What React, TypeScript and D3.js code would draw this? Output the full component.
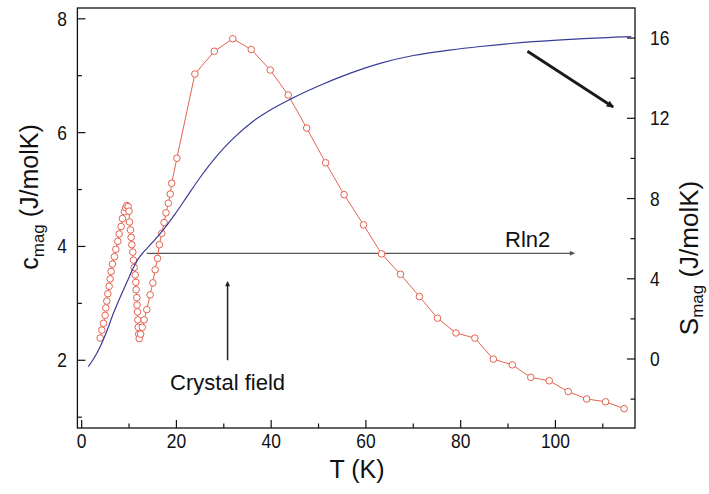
import React from "react";
import * as d3 from "d3";

// ---- data ----
const cT = [3.9, 4.26, 4.6, 4.96, 5.1, 5.31, 5.52, 5.8, 6.01, 6.22, 6.5, 6.92, 7.21, 7.63, 7.91, 8.33, 8.61, 9.03, 9.3, 9.55, 9.8, 10.0, 10.09, 10.3, 10.44, 10.58, 10.79, 10.93, 11.08, 11.29, 11.43, 11.5, 11.64, 11.7, 11.78, 11.86, 11.95, 12.05, 12.15, 12.45, 12.8, 13.19, 13.75, 14.45, 15.02, 15.51, 16.0, 16.4, 16.9, 17.4, 17.8, 18.3, 18.7, 19.0, 20.1, 23.9, 28.0, 31.9, 35.8, 39.8, 43.6, 47.5, 51.5, 55.4, 59.5, 63.3, 67.3, 71.3, 75.1, 79.0, 83.0, 86.9, 90.9, 94.8, 98.7, 102.7, 106.6, 110.6, 114.5];
const cMag = [2.39, 2.53, 2.65, 2.79, 2.92, 3.04, 3.17, 3.3, 3.43, 3.56, 3.69, 3.82, 3.95, 4.09, 4.22, 4.35, 4.49, 4.61, 4.68, 4.72, 4.7, 4.62, 4.43, 4.29, 4.16, 4.03, 3.9, 3.76, 3.63, 3.5, 3.37, 3.24, 3.1, 2.97, 2.85, 2.71, 2.58, 2.46, 2.38, 2.46, 2.58, 2.71, 2.89, 3.15, 3.36, 3.59, 3.79, 4.03, 4.23, 4.42, 4.59, 4.76, 4.92, 5.11, 5.55, 7.03, 7.43, 7.65, 7.46, 7.1, 6.66, 6.08, 5.47, 4.91, 4.38, 3.87, 3.51, 3.12, 2.74, 2.48, 2.39, 2.02, 1.92, 1.7, 1.64, 1.45, 1.32, 1.27, 1.15];

const sT = [1.4, 2.5, 3.9, 5.3, 6.7, 7.8, 8.8, 9.8, 10.6, 11.3, 11.8, 12.8, 13.8, 15.2, 16.6, 18.2, 19.7, 22.3, 25, 28.5, 32, 36, 40, 44.2, 50, 56.6, 63, 70, 77.7, 84.1, 95.3, 105, 116];
const sMag = [-0.38, 0.0, 0.61, 1.38, 2.28, 2.9, 3.44, 3.96, 4.4, 4.72, 4.94, 5.26, 5.52, 5.88, 6.26, 6.74, 7.22, 8.12, 9.05, 10.12, 11.0, 11.82, 12.44, 12.97, 13.61, 14.24, 14.74, 15.13, 15.4, 15.58, 15.82, 15.96, 16.07];

const xTicksMajor = [0, 20, 40, 60, 80, 100];
const xTicksMinor = [10, 30, 50, 70, 90, 110];
const lTicksMajor = [2, 4, 6, 8];
const lTicksMinor = [1, 3, 5, 7];
const rTicksMajor = [0, 4, 8, 12, 16];
const rTicksMinor = [-2, 2, 6, 10, 14];

// annotations in data units
const rln2Arrow = { t0: 13.75, t1: 104, s: 5.27 };
const cfArrow = { t: 30.8, c0: 2.0, c1: 3.38 };
const trArrow = { t0: 94.1, c0: 7.43, t1: 112.2, c1: 6.45 };

const W = 709;
const H = 494;
const L = 77.4, R = 635, TOP = 8, BOT = 428;

const FONT = "Liberation Sans, Arial, Helvetica, sans-serif";

function Txt({ x, y, size, anchor = "start", children, sx = 0.87, fill = "#111" }: any) {
  return (
    <text
      transform={`translate(${x},${y}) scale(${sx},1)`}
      fontSize={size}
      fontFamily={FONT}
      textAnchor={anchor}
      fill={fill}
    >
      {children}
    </text>
  );
}

export default function App() {
  const x = d3.scaleLinear().domain([-0.9, 116.8]).range([L, R]);
  const yL = d3.scaleLinear().domain([0.81, 8.19]).range([BOT, TOP]);
  const yR = d3.scaleLinear().domain([-3.44, 17.5]).range([BOT, TOP]);

  const cPts = cT.map((t, i) => [t, cMag[i]] as [number, number]);
  const sPts = sT.map((t, i) => [t, sMag[i]] as [number, number]);

  const cLine = d3.line<[number, number]>().x((d) => x(d[0])).y((d) => yL(d[1]));
  const sLine = d3
    .line<[number, number]>()
    .x((d) => x(d[0]))
    .y((d) => yR(d[1]))
    .curve(d3.curveMonotoneX);

  const red = "#e4624f";
  const blue = "#3a3d97";

  return (
    <svg
      width={W}
      height={H}
      style={{ position: "absolute", left: 0, top: 0, background: "#fff" }}
    >
      <defs>
        <marker id="ahGray" viewBox="0 0 10 10" refX="9" refY="5" markerWidth="7" markerHeight="5" orient="auto" markerUnits="userSpaceOnUse">
          <path d="M0,0 L10,5 L0,10 z" fill="#555" />
        </marker>
        <marker id="ahBlack" viewBox="0 0 10 10" refX="9" refY="5" markerWidth="8" markerHeight="5" orient="auto" markerUnits="userSpaceOnUse">
          <path d="M0,0 L10,5 L0,10 z" fill="#222" />
        </marker>
        <marker id="ahBig" viewBox="0 0 10 10" refX="9" refY="5" markerWidth="10" markerHeight="7" orient="auto" markerUnits="userSpaceOnUse">
          <path d="M0,0 L10,5 L0,10 z" fill="#1a1a1a" />
        </marker>
        <clipPath id="plotClip">
          <rect x={L} y={TOP} width={R - L} height={BOT - TOP} />
        </clipPath>
      </defs>

      <g clipPath="url(#plotClip)">
        {/* Rln2 arrow */}
        <line
          x1={x(rln2Arrow.t0)}
          x2={x(rln2Arrow.t1)}
          y1={yR(rln2Arrow.s)}
          y2={yR(rln2Arrow.s)}
          stroke="#555"
          strokeWidth={1.3}
          markerEnd="url(#ahGray)"
        />
        {/* red data */}
        <path d={cLine(cPts) || ""} fill="none" stroke={red} strokeWidth={1} />
        {cPts.map((d, i) => (
          <circle key={i} cx={x(d[0])} cy={yL(d[1])} r={3.3} fill="#fff" stroke={red} strokeWidth={1} />
        ))}
        {/* blue entropy */}
        <path d={sLine(sPts) || ""} fill="none" stroke={blue} strokeWidth={1.2} />
        {/* crystal field arrow */}
        <line
          x1={x(cfArrow.t)}
          x2={x(cfArrow.t)}
          y1={yL(cfArrow.c0)}
          y2={yL(cfArrow.c1)}
          stroke="#222"
          strokeWidth={1.5}
          markerEnd="url(#ahBlack)"
        />
        {/* top-right arrow */}
        <line
          x1={x(trArrow.t0)}
          y1={yL(trArrow.c0)}
          x2={x(trArrow.t1)}
          y2={yL(trArrow.c1)}
          stroke="#1a1a1a"
          strokeWidth={2.8}
          markerEnd="url(#ahBig)"
        />
      </g>

      {/* frame */}
      <rect x={L} y={TOP} width={R - L} height={BOT - TOP} fill="none" stroke="#111" strokeWidth={1.3} />

      {/* bottom ticks */}
      {xTicksMajor.map((t) => (
        <g key={"xm" + t}>
          <line x1={x(t)} x2={x(t)} y1={BOT} y2={BOT - 8} stroke="#111" strokeWidth={1.2} />
          <Txt x={x(t)} y={448} size={20} anchor="middle">{t}</Txt>
        </g>
      ))}
      {xTicksMinor.map((t) => (
        <line key={"xn" + t} x1={x(t)} x2={x(t)} y1={BOT} y2={BOT - 4.5} stroke="#111" strokeWidth={1.2} />
      ))}

      {/* left ticks */}
      {lTicksMajor.map((t) => (
        <g key={"lm" + t}>
          <line x1={L} x2={L + 8} y1={yL(t)} y2={yL(t)} stroke="#111" strokeWidth={1.2} />
          <Txt x={67} y={yL(t) + 7} size={20} anchor="end">{t}</Txt>
        </g>
      ))}
      {lTicksMinor.map((t) => (
        <line key={"ln" + t} x1={L} x2={L + 4.5} y1={yL(t)} y2={yL(t)} stroke="#111" strokeWidth={1.2} />
      ))}

      {/* right ticks */}
      {rTicksMajor.map((t) => (
        <g key={"rm" + t}>
          <line x1={R} x2={R - 8} y1={yR(t)} y2={yR(t)} stroke="#111" strokeWidth={1.2} />
          <Txt x={650} y={yR(t) + 7} size={20} anchor="start">{t}</Txt>
        </g>
      ))}
      {rTicksMinor.map((t) => (
        <line key={"rn" + t} x1={R} x2={R - 4.5} y1={yR(t)} y2={yR(t)} stroke="#111" strokeWidth={1.2} />
      ))}

      {/* axis titles */}
      <Txt x={357} y={478} size={25} anchor="middle" sx={1}>T (K)</Txt>
      <text
        transform="translate(38,197) rotate(-90)"
        fontSize={25}
        fontFamily={FONT}
        textAnchor="middle"
        fill="#111"
      >
        c<tspan fontSize={17} dy={6}>mag</tspan>
        <tspan dy={-6}> (J/molK)</tspan>
      </text>
      <text
        transform="translate(698,258) rotate(-90)"
        fontSize={26}
        fontFamily={FONT}
        textAnchor="middle"
        fill="#111"
      >
        S<tspan fontSize={17} dy={5}>mag</tspan>
        <tspan dy={-5}> (J/molK)</tspan>
      </text>

      {/* annotation labels */}
      <Txt x={x(cfArrow.t)} y={390} size={22} anchor="middle" sx={1}>Crystal field</Txt>
      <Txt x={505} y={247} size={22} anchor="start" sx={1}>Rln2</Txt>
    </svg>
  );
}
